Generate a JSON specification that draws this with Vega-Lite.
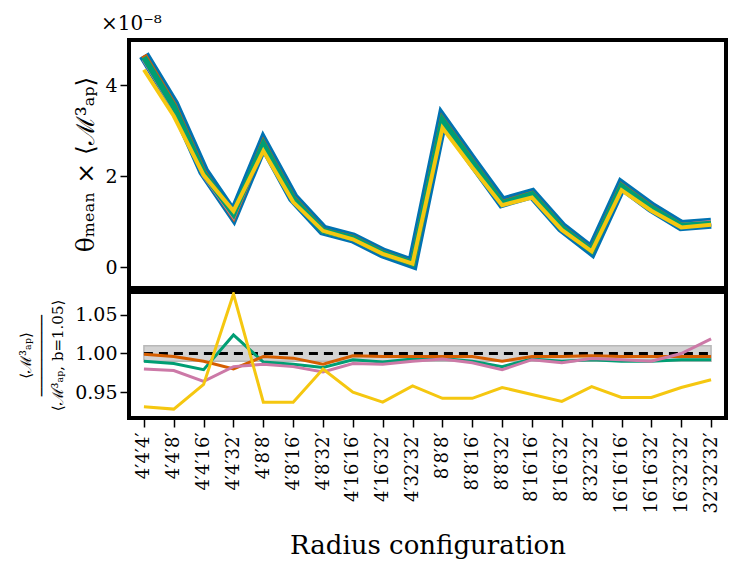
{
  "$schema": "https://vega.github.io/schema/vega-lite/v6.json",
  "background": "white",
  "padding": {"left": 16, "top": 12, "right": 5, "bottom": 5},
  "spacing": 0,
  "config": {
    "font": "DejaVu Serif",
    "view": {"stroke": "black", "strokeWidth": 4},
    "axis": {"domain": false, "grid": false, "ticks": true, "tickColor": "black", "tickSize": 9, "tickWidth": 1.5, "labelPadding": 3, "labelFontSize": 19, "labelColor": "black", "titleColor": "black", "titleFontWeight": "normal", "labelFont": "DejaVu Serif", "titleFont": "DejaVu Serif"}
  },
  "datasets": {
    "base": [
      {"config": "4′4′4′", "theta": 4.66, "ratio": 1.0}, {"config": "4′4′8′", "theta": 3.58, "ratio": 1.0}, {"config": "4′4′16′", "theta": 2.11, "ratio": 1.0}, {"config": "4′4′32′", "theta": 1.15, "ratio": 1.0}, {"config": "4′8′8′", "theta": 2.73, "ratio": 1.0}, {"config": "4′8′16′", "theta": 1.53, "ratio": 1.0}, {"config": "4′8′32′", "theta": 0.82, "ratio": 1.0}, {"config": "4′16′16′", "theta": 0.65, "ratio": 1.0}, {"config": "4′16′32′", "theta": 0.32, "ratio": 1.0}, {"config": "4′32′32′", "theta": 0.09, "ratio": 1.0},
      {"config": "8′8′8′", "theta": 3.25, "ratio": 1.0}, {"config": "8′8′16′", "theta": 2.33, "ratio": 1.0}, {"config": "8′8′32′", "theta": 1.43, "ratio": 1.0}, {"config": "8′16′16′", "theta": 1.62, "ratio": 1.0}, {"config": "8′16′32′", "theta": 0.88, "ratio": 1.0}, {"config": "8′32′32′", "theta": 0.37, "ratio": 1.0}, {"config": "16′16′16′", "theta": 1.80, "ratio": 1.0}, {"config": "16′16′32′", "theta": 1.32, "ratio": 1.0}, {"config": "16′32′32′", "theta": 0.92, "ratio": 1.0}, {"config": "32′32′32′", "theta": 0.97, "ratio": 1.0}
    ],
    "orange": [
      {"config": "4′4′4′", "theta": 4.655, "ratio": 0.999}, {"config": "4′4′8′", "theta": 3.566, "ratio": 0.996}, {"config": "4′4′16′", "theta": 2.089, "ratio": 0.990}, {"config": "4′4′32′", "theta": 1.127, "ratio": 0.980}, {"config": "4′8′8′", "theta": 2.719, "ratio": 0.996}, {"config": "4′8′16′", "theta": 1.521, "ratio": 0.994}, {"config": "4′8′32′", "theta": 0.809, "ratio": 0.986}, {"config": "4′16′16′", "theta": 0.648, "ratio": 0.997}, {"config": "4′16′32′", "theta": 0.319, "ratio": 0.996}, {"config": "4′32′32′", "theta": 0.090, "ratio": 0.996},
      {"config": "8′8′8′", "theta": 3.237, "ratio": 0.996}, {"config": "8′8′16′", "theta": 2.321, "ratio": 0.996}, {"config": "8′8′32′", "theta": 1.416, "ratio": 0.990}, {"config": "8′16′16′", "theta": 1.614, "ratio": 0.996}, {"config": "8′16′32′", "theta": 0.876, "ratio": 0.996}, {"config": "8′32′32′", "theta": 0.369, "ratio": 0.997}, {"config": "16′16′16′", "theta": 1.793, "ratio": 0.996}, {"config": "16′16′32′", "theta": 1.315, "ratio": 0.996}, {"config": "16′32′32′", "theta": 0.916, "ratio": 0.996}, {"config": "32′32′32′", "theta": 0.966, "ratio": 0.996}
    ],
    "green": [
      {"config": "4′4′4′", "theta": 4.613, "ratio": 0.990}, {"config": "4′4′8′", "theta": 3.533, "ratio": 0.987}, {"config": "4′4′16′", "theta": 2.066, "ratio": 0.979}, {"config": "4′4′32′", "theta": 1.178, "ratio": 1.024}, {"config": "4′8′8′", "theta": 2.700, "ratio": 0.989}, {"config": "4′8′16′", "theta": 1.509, "ratio": 0.986}, {"config": "4′8′32′", "theta": 0.805, "ratio": 0.982}, {"config": "4′16′16′", "theta": 0.645, "ratio": 0.992}, {"config": "4′16′32′", "theta": 0.316, "ratio": 0.989}, {"config": "4′32′32′", "theta": 0.089, "ratio": 0.993},
      {"config": "8′8′8′", "theta": 3.229, "ratio": 0.9935}, {"config": "8′8′16′", "theta": 2.307, "ratio": 0.990}, {"config": "8′8′32′", "theta": 1.406, "ratio": 0.983}, {"config": "8′16′16′", "theta": 1.609, "ratio": 0.993}, {"config": "8′16′32′", "theta": 0.871, "ratio": 0.990}, {"config": "8′32′32′", "theta": 0.367, "ratio": 0.992}, {"config": "16′16′16′", "theta": 1.782, "ratio": 0.990}, {"config": "16′16′32′", "theta": 1.307, "ratio": 0.990}, {"config": "16′32′32′", "theta": 0.913, "ratio": 0.992}, {"config": "32′32′32′", "theta": 0.962, "ratio": 0.992}
    ],
    "pink": [
      {"config": "4′4′4′", "theta": 4.567, "ratio": 0.980}, {"config": "4′4′8′", "theta": 3.501, "ratio": 0.978}, {"config": "4′4′16′", "theta": 2.034, "ratio": 0.964}, {"config": "4′4′32′", "theta": 1.130, "ratio": 0.983}, {"config": "4′8′8′", "theta": 2.692, "ratio": 0.986}, {"config": "4′8′16′", "theta": 1.504, "ratio": 0.983}, {"config": "4′8′32′", "theta": 0.800, "ratio": 0.976}, {"config": "4′16′16′", "theta": 0.642, "ratio": 0.987}, {"config": "4′16′32′", "theta": 0.316, "ratio": 0.986}, {"config": "4′32′32′", "theta": 0.089, "ratio": 0.990},
      {"config": "8′8′8′", "theta": 3.227, "ratio": 0.993}, {"config": "8′8′16′", "theta": 2.302, "ratio": 0.988}, {"config": "8′8′32′", "theta": 1.400, "ratio": 0.979}, {"config": "8′16′16′", "theta": 1.607, "ratio": 0.992}, {"config": "8′16′32′", "theta": 0.869, "ratio": 0.988}, {"config": "8′32′32′", "theta": 0.368, "ratio": 0.9935}, {"config": "16′16′16′", "theta": 1.786, "ratio": 0.992}, {"config": "16′16′32′", "theta": 1.307, "ratio": 0.990}, {"config": "16′32′32′", "theta": 0.920, "ratio": 1.000}, {"config": "32′32′32′", "theta": 0.988, "ratio": 1.019}
    ],
    "yellow": [
      {"config": "4′4′4′", "theta": 4.338, "ratio": 0.931}, {"config": "4′4′8′", "theta": 3.322, "ratio": 0.928}, {"config": "4′4′16′", "theta": 2.026, "ratio": 0.960}, {"config": "4′4′32′", "theta": 1.239, "ratio": 1.077}, {"config": "4′8′8′", "theta": 2.558, "ratio": 0.937}, {"config": "4′8′16′", "theta": 1.434, "ratio": 0.937}, {"config": "4′8′32′", "theta": 0.804, "ratio": 0.980}, {"config": "4′16′16′", "theta": 0.618, "ratio": 0.950}, {"config": "4′16′32′", "theta": 0.300, "ratio": 0.937}, {"config": "4′32′32′", "theta": 0.086, "ratio": 0.958},
      {"config": "8′8′8′", "theta": 3.062, "ratio": 0.942}, {"config": "8′8′16′", "theta": 2.195, "ratio": 0.942}, {"config": "8′8′32′", "theta": 1.367, "ratio": 0.956}, {"config": "8′16′16′", "theta": 1.534, "ratio": 0.947}, {"config": "8′16′32′", "theta": 0.825, "ratio": 0.938}, {"config": "8′32′32′", "theta": 0.354, "ratio": 0.957}, {"config": "16′16′16′", "theta": 1.697, "ratio": 0.943}, {"config": "16′16′32′", "theta": 1.245, "ratio": 0.943}, {"config": "16′32′32′", "theta": 0.880, "ratio": 0.956}, {"config": "32′32′32′", "theta": 0.937, "ratio": 0.966}
    ]
  },
  "vconcat": [
    {
      "width": 597,
      "height": 248,
      "title": {"text": "×10⁻⁸", "anchor": "start", "frame": "group", "fontSize": 20, "fontWeight": "normal", "font": "DejaVu Serif", "color": "black", "dx": -28, "offset": 6},
      "encoding": {
        "x": {"field": "config", "type": "nominal", "sort": null, "scale": {"type": "point", "padding": 0.5}, "axis": null},
        "y": {"field": "theta", "type": "quantitative", "scale": {"domain": [-0.45, 4.99], "nice": false, "zero": false}, "axis": {"values": [0, 2, 4], "labelFont": "DejaVu Serif", "labelFontSize": 19, "title": "θₘₑₐₙ × ⟨ℳ³ₐₚ⟩", "titleFont": "DejaVu Serif", "titleFontSize": 25, "titlePadding": 6}}
      },
      "layer": [
        {"data": {"name": "base"}, "mark": {"type": "line", "color": "#0072B2", "strokeWidth": 11, "clip": true}},
        {"data": {"name": "orange"}, "mark": {"type": "line", "color": "#D55E00", "strokeWidth": 6, "clip": true}},
        {"data": {"name": "pink"}, "mark": {"type": "line", "color": "#CC79A7", "strokeWidth": 5, "clip": true}},
        {"data": {"name": "green"}, "mark": {"type": "line", "color": "#009E73", "strokeWidth": 6, "clip": true}},
        {"data": {"name": "yellow"}, "mark": {"type": "line", "color": "#F5C710", "strokeWidth": 4, "clip": true}}
      ]
    },
    {
      "width": 597,
      "height": 126,
      "encoding": {
        "x": {"field": "config", "type": "nominal", "sort": null, "scale": {"type": "point", "padding": 0.5}, "axis": {"title": "Radius configuration", "titleFont": "DejaVu Serif", "titleFontSize": 26, "labelAngle": -90, "labelFont": "DejaVu Serif", "labelFontSize": 18, "labelPadding": 5, "titlePadding": 20}},
        "y": {"field": "ratio", "type": "quantitative", "scale": {"domain": [0.9165, 1.0796], "nice": false, "zero": false}, "axis": {"values": [0.95, 1.0, 1.05], "format": ".2f", "labelFont": "DejaVu Serif", "labelFontSize": 19, "title": ["⟨ℳ³ₐₚ⟩", "─────────", "⟨ℳ³ₐₚ, b=1.05⟩"], "titleFont": "DejaVu Serif", "titleFontSize": 15, "titleLineHeight": 16, "titlePadding": 9}}
      },
      "layer": [
        {"mark": {"type": "rule", "color": "black", "strokeWidth": 2}, "encoding": {"x": null, "y": {"datum": 1.0}}},
        {"data": {"name": "base"}, "mark": {"type": "area", "color": "#d3d3d3", "opacity": 1, "stroke": "#b8b8b8", "strokeWidth": 1.5}, "encoding": {"y": {"datum": 0.99}, "y2": {"datum": 1.01}}},
        {"data": {"name": "base"}, "mark": {"type": "line", "color": "black", "strokeWidth": 3, "strokeDash": [9, 6]}},
        {"data": {"name": "green"}, "mark": {"type": "line", "color": "#009E73", "strokeWidth": 3, "clip": true}},
        {"data": {"name": "orange"}, "mark": {"type": "line", "color": "#D55E00", "strokeWidth": 3, "clip": true}},
        {"data": {"name": "pink"}, "mark": {"type": "line", "color": "#CC79A7", "strokeWidth": 3, "clip": true}},
        {"data": {"name": "yellow"}, "mark": {"type": "line", "color": "#F5C710", "strokeWidth": 3, "clip": true}}
      ]
    }
  ]
}
